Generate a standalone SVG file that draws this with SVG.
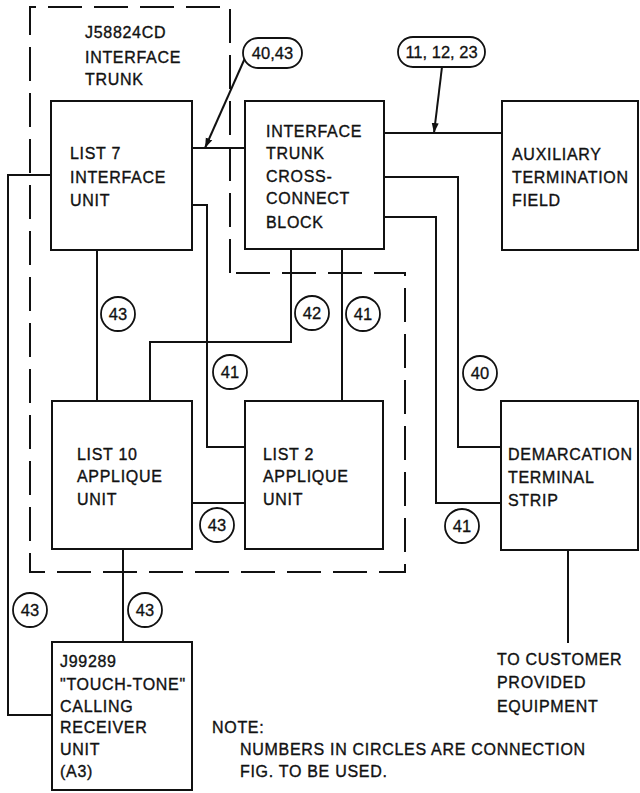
<svg xmlns="http://www.w3.org/2000/svg" width="640" height="793" viewBox="0 0 640 793">
<defs>
<style>
.box{fill:#fff;stroke:#111;stroke-width:2}
.ln{fill:none;stroke:#111;stroke-width:2}
.dash{fill:none;stroke:#111;stroke-width:2;stroke-dasharray:34 12}
.t{font-family:"Liberation Sans",Arial,sans-serif;font-size:16px;letter-spacing:0.7px;fill:#111;stroke:#111;stroke-width:0.35px}
.c{fill:#fff;stroke:#111;stroke-width:1.8}
.ct{font-family:"Liberation Sans",Arial,sans-serif;font-size:16.5px;fill:#111;stroke:#111;stroke-width:0.3px;text-anchor:middle}
</style>
<marker id="ah" viewBox="0 0 10 10" refX="10" refY="5" markerWidth="10" markerHeight="10" markerUnits="userSpaceOnUse" orient="auto">
<path d="M0,1.5 L10,5 L0,8.5 Z" fill="#111"/>
</marker>
</defs>
<rect width="640" height="793" fill="#fff"/>

<g id="boundary">
<path class="dash" d="M230,273 L230,7 L30,7 L30,572 L405,572 L405,273 Z"/>
<text class="t" x="85" y="38">J58824CD</text>
<text class="t" x="85" y="63">INTERFACE</text>
<text class="t" x="85" y="85">TRUNK</text>
</g>

<g id="connectors">
<line class="ln" x1="192" y1="148" x2="245" y2="148"/>
<line class="ln" x1="384" y1="133" x2="502" y2="133"/>
<polyline class="ln" points="384,177 458,177 458,447 501,447"/>
<polyline class="ln" points="384,217 436,217 436,503 501,503"/>
<polyline class="ln" points="291,249 291,342 150,342 150,401"/>
<line class="ln" x1="342" y1="249" x2="342" y2="401"/>
<line class="ln" x1="97" y1="250" x2="97" y2="401"/>
<polyline class="ln" points="192,205 207,205 207,447 245,447"/>
<line class="ln" x1="192" y1="503" x2="245" y2="503"/>
<polyline class="ln" points="51,175 8,175 8,715 52,715"/>
<line class="ln" x1="123" y1="549" x2="123" y2="642"/>
<line class="ln" x1="568" y1="550" x2="568" y2="643"/>
<line class="ln" x1="245" y1="58" x2="205" y2="148" marker-end="url(#ah)"/>
<line class="ln" x1="442" y1="67" x2="434" y2="133" marker-end="url(#ah)"/>
</g>

<g id="list7">
<rect class="box" x="51" y="101" width="141" height="149"/>
<text class="t" x="70" y="159">LIST 7</text>
<text class="t" x="70" y="183">INTERFACE</text>
<text class="t" x="70" y="206">UNIT</text>
</g>

<g id="crossconnect">
<rect class="box" x="245" y="101" width="139" height="148"/>
<text class="t" x="266" y="137">INTERFACE</text>
<text class="t" x="266" y="159">TRUNK</text>
<text class="t" x="266" y="182">CROSS-</text>
<text class="t" x="266" y="204">CONNECT</text>
<text class="t" x="266" y="228">BLOCK</text>
</g>

<g id="auxiliary">
<rect class="box" x="502" y="101" width="136" height="149"/>
<text class="t" x="512" y="160">AUXILIARY</text>
<text class="t" x="512" y="183">TERMINATION</text>
<text class="t" x="512" y="206">FIELD</text>
</g>

<g id="list10">
<rect class="box" x="52" y="401" width="140" height="148"/>
<text class="t" x="77" y="460">LIST 10</text>
<text class="t" x="77" y="482">APPLIQUE</text>
<text class="t" x="77" y="505">UNIT</text>
</g>

<g id="list2">
<rect class="box" x="245" y="401" width="138" height="148"/>
<text class="t" x="263" y="460">LIST 2</text>
<text class="t" x="263" y="482">APPLIQUE</text>
<text class="t" x="263" y="505">UNIT</text>
</g>

<g id="demarcation">
<rect class="box" x="501" y="401" width="137" height="149"/>
<text class="t" x="508" y="460">DEMARCATION</text>
<text class="t" x="508" y="483">TERMINAL</text>
<text class="t" x="508" y="506">STRIP</text>
</g>

<g id="touchtone">
<rect class="box" x="52" y="642" width="140" height="148"/>
<text class="t" x="60" y="667">J99289</text>
<text class="t" x="60" y="690">"TOUCH-TONE"</text>
<text class="t" x="60" y="712">CALLING</text>
<text class="t" x="60" y="733">RECEIVER</text>
<text class="t" x="60" y="755">UNIT</text>
<text class="t" x="60" y="777">(A3)</text>
</g>

<g id="customer">
<text class="t" x="497" y="665">TO CUSTOMER</text>
<text class="t" x="497" y="688">PROVIDED</text>
<text class="t" x="497" y="712">EQUIPMENT</text>
</g>

<g id="labels">
<rect class="c" x="243" y="38" width="59" height="30" rx="15"/>
<text class="ct" x="272.5" y="59">40,43</text>
<rect class="c" x="398" y="37" width="87" height="30" rx="15"/>
<text class="ct" x="441.5" y="58">11, 12, 23</text>
<circle class="c" cx="118" cy="314" r="17"/><text class="ct" x="118" y="320">43</text>
<circle class="c" cx="312" cy="313" r="17"/><text class="ct" x="312" y="319">42</text>
<circle class="c" cx="363" cy="314" r="17"/><text class="ct" x="363" y="320">41</text>
<circle class="c" cx="230" cy="372" r="17"/><text class="ct" x="230" y="378">41</text>
<circle class="c" cx="480" cy="373" r="17"/><text class="ct" x="480" y="379">40</text>
<circle class="c" cx="217" cy="525" r="17"/><text class="ct" x="217" y="531">43</text>
<circle class="c" cx="462" cy="526" r="17"/><text class="ct" x="462" y="532">41</text>
<circle class="c" cx="30" cy="610" r="17"/><text class="ct" x="30" y="616">43</text>
<circle class="c" cx="145" cy="610" r="17"/><text class="ct" x="145" y="616">43</text>
</g>

<g id="note">
<text class="t" x="212" y="733">NOTE:</text>
<text class="t" x="240" y="755">NUMBERS IN CIRCLES ARE CONNECTION</text>
<text class="t" x="240" y="777">FIG. TO BE USED.</text>
</g>
</svg>
